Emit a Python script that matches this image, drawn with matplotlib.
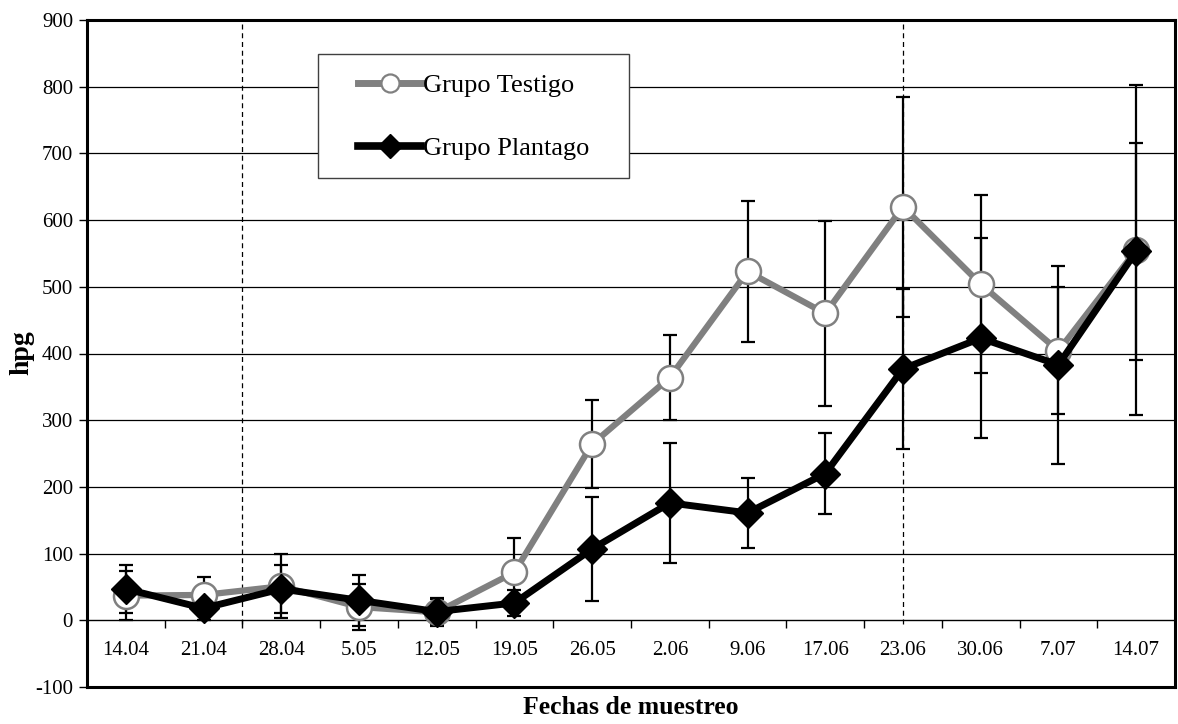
import matplotlib
matplotlib.use("Agg")
import matplotlib.pyplot as plt
from matplotlib.patches import Rectangle
import numpy as np

plt.rcParams['font.family'] = ['Liberation Serif', 'DejaVu Serif']

fechas = ["14.04", "21.04", "28.04", "5.05", "12.05", "19.05", "26.05",
          "2.06", "9.06", "17.06", "23.06", "30.06", "7.07", "14.07"]
testigo = [37, 38, 51, 20, 12, 72, 264, 364, 523, 460, 620, 504, 404, 555]
testigo_err = [37, 27, 48, 34, 20, 51, 66, 63, 106, 139, 165, 133, 95, 247]
plantago = [47, 18, 47, 30, 13, 26, 107, 176, 161, 220, 377, 423, 383, 553]
plantago_err = [36, 18, 36, 38, 20, 19, 78, 90, 53, 61, 120, 150, 148, 163]
yticks = [-100, 0, 100, 200, 300, 400, 500, 600, 700, 800, 900]
dashed_at = [1.5, 10]
series_names = ['Grupo Testigo', 'Grupo Plantago']

W, H = 1178, 724
L, R, T, B = 87, 1175, 20, 687
fig = plt.figure(figsize=(W / 100, H / 100), dpi=100)
ax = fig.add_axes([L / W, 1 - B / H, (R - L) / W, (B - T) / H])

x = np.arange(len(fechas))
ax.set_xlim(-0.5, len(fechas) - 0.5)
ax.set_ylim(-100, 900)

# grid lines
for v in yticks:
    if 0 < v < 900:
        ax.axhline(v, color='black', lw=0.9, zorder=1)
ax.axhline(0, color='black', lw=1.0, zorder=1)
ax.vlines(np.arange(0.5, len(fechas) - 0.5, 1), -12, 0, color='black', lw=1.0, zorder=1)
for d in dashed_at:
    ax.vlines(d, -5, 900, color='black', lw=0.9, linestyles=(0, (4, 3)), zorder=1.5)

# error bars
ax.errorbar(x, testigo, yerr=testigo_err, fmt='none', ecolor='black',
            elinewidth=1.6, capsize=5, capthick=1.6, zorder=2)
ax.errorbar(x, plantago, yerr=plantago_err, fmt='none', ecolor='black',
            elinewidth=1.6, capsize=5, capthick=1.6, zorder=2)

ax.plot(x, testigo, color='#808080', lw=4.5, marker='o', ms=18,
        markerfacecolor='white', markeredgecolor='#808080', markeredgewidth=1.8, zorder=3)
ax.plot(x, plantago, color='black', lw=5, marker='D', ms=15,
        markerfacecolor='black', markeredgecolor='black', zorder=4)

for i, lab in enumerate(fechas):
    ax.text(i, -45, lab, ha='center', va='center', fontsize=15)

ax.set_xticks([])
ax.set_yticks(yticks)
ax.set_yticklabels([str(v) for v in yticks], fontsize=15)
ax.tick_params(axis='y', direction='out', length=6, width=1.0, pad=4)
for s in ax.spines.values():
    s.set_linewidth(2.2)
    s.set_color('black')

fig.text(22 / W, 1 - 353 / H, 'hpg', rotation=90, ha='center', va='center',
         fontsize=20, fontweight='bold')
fig.text((L + R) / 2 / W, 1 - 707 / H, 'Fechas de muestreo', ha='center', va='center',
         fontsize=18.5, fontweight='bold')

# manual legend (figure pixel based)
def fx(px):
    return px / W
def fy(py):
    return 1 - py / H

fig.patches.append(Rectangle((fx(318), fy(178)), fx(629) - fx(318), fy(54) - fy(178),
                             transform=fig.transFigure, facecolor='white',
                             edgecolor='#404040', lw=1.0, zorder=6))
styles = [
    dict(color='#808080', lw=5, marker='o', ms=13, markerfacecolor='white',
         markeredgecolor='#808080', markeredgewidth=1.6),
    dict(color='black', lw=5.5, marker='D', ms=12, markerfacecolor='black',
         markeredgecolor='black'),
]
for name, st, py in zip(series_names, styles, [83, 146]):
    ln = plt.Line2D([fx(358), fx(421)], [fy(py), fy(py)], transform=fig.transFigure,
                    zorder=7, color=st['color'], lw=st['lw'])
    fig.lines.append(ln)
    mk = plt.Line2D([fx(390)], [fy(py)], transform=fig.transFigure, linestyle='none',
                    zorder=8, **{k: v for k, v in st.items() if k not in ('color', 'lw')})
    fig.lines.append(mk)
    fig.text(fx(423), fy(py + 9), name, ha='left', va='baseline', fontsize=19, zorder=8)

fig.savefig('out.png', dpi=100)
